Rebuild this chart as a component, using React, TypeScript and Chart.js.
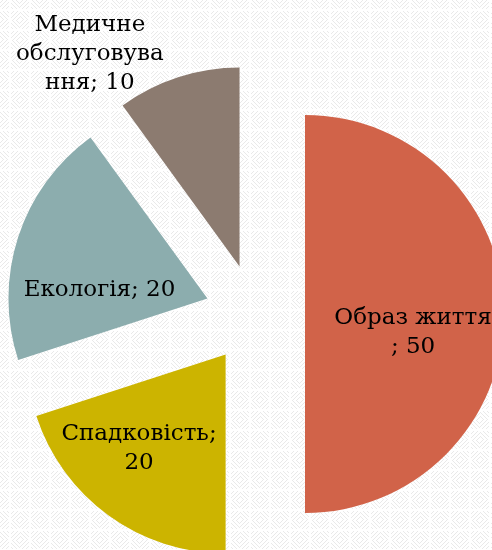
import React, { useEffect, useRef } from "react";
import { Chart, registerables } from "chart.js";

Chart.register(...registerables);

const categories = ["Образ життя", "Спадковість", "Екологія", "Медичне обслуговування"];
const values = [50, 20, 20, 10];
const colors = ["#D16349", "#CCB400", "#8CADAE", "#8C7B70"];
// how Excel wrapped each data label ("category; value")
const labelLines = [
  ["Образ життя", "; 50"],
  ["Спадковість;", "20"],
  ["Екологія; 20"],
  ["Медичне", "обслуговува", "ння; 10"],
];

// label placement relative to each exploded slice's apex
const labelRadiusFrac = [0.551, 0.644, 0.544, 1.305];
const labelAngleShiftDeg = [9.7, 6.5, -13.5, -17.2];

// keep every exploded slice at the same radius / full angle (undo Chart.js's offset tweaks)
const explodePlugin = {
  id: "explodeFix",
  afterDatasetUpdate(chart: any, args: any) {
    const meta = args.meta || chart.getDatasetMeta(args.index);
    const R = meta.controller.outerRadius;
    meta.data.forEach((arc: any) => {
      const off = ((arc.options && arc.options.offset) || 0) / 4;
      const circ = arc.circumference;
      const fix = 1 - Math.sin(Math.min(Math.PI, circ || 0));
      const ro = off * fix;
      arc.outerRadius = R - ro;
      const da = ro / (2 * Math.PI * R);
      arc.startAngle = arc.startAngle - da;
      arc.endAngle = arc.endAngle + da;
    });
  },
};

let patternCache: CanvasPattern | null = null;
function getPattern(ctx: CanvasRenderingContext2D) {
  if (patternCache) return patternCache;
  const s = 20;
  const c = document.createElement("canvas");
  c.width = s;
  c.height = s;
  const cx = c.getContext("2d")!;
  const img = cx.createImageData(s, s);
  for (let y = 0; y < s; y++) {
    for (let x = 0; x < s; x++) {
      const dx = x - 9.5;
      const dy = y - 9.5;
      const d = Math.floor(Math.abs(dx) + Math.abs(dy));
      let v = 255;
      const onRing = d % 4 === 0 || d % 4 === 1;
      const cross = Math.abs(dx) < 1 || Math.abs(dy) < 1;
      if (onRing && !cross && (x + y) % 2 === 0) v = 233;
      const k = (y * s + x) * 4;
      img.data[k] = v;
      img.data[k + 1] = v;
      img.data[k + 2] = v;
      img.data[k + 3] = 255;
    }
  }
  cx.putImageData(img, 0, 0);
  patternCache = ctx.createPattern(c, "repeat");
  return patternCache;
}

const backgroundPlugin = {
  id: "bgPattern",
  beforeDraw(chart: any) {
    const ctx = chart.ctx as CanvasRenderingContext2D;
    ctx.save();
    ctx.fillStyle = "#ffffff";
    ctx.fillRect(0, 0, chart.width, chart.height);
    const p = getPattern(ctx);
    if (p) {
      ctx.fillStyle = p;
      ctx.fillRect(0, 0, chart.width, chart.height);
    }
    ctx.restore();
  },
};

const labelPlugin = {
  id: "sliceLabels",
  afterDatasetsDraw(chart: any) {
    const ctx = chart.ctx;
    const meta = chart.getDatasetMeta(0);
    const base = meta.controller.outerRadius;
    ctx.save();
    ctx.font = "23px 'DejaVu Serif'";
    ctx.fillStyle = "#000";
    ctx.textAlign = "center";
    ctx.textBaseline = "middle";
    const lh = 29;
    meta.data.forEach((arc: any, i: number) => {
      const off = (arc.options.offset || 0) / 4;
      const mid = (arc.startAngle + arc.endAngle) / 2;
      const ax = arc.x + Math.cos(mid) * off;
      const ay = arc.y + Math.sin(mid) * off;
      const a = mid + (labelAngleShiftDeg[i] * Math.PI) / 180;
      const r = base * labelRadiusFrac[i];
      const cx = ax + Math.cos(a) * r;
      const cy = ay + Math.sin(a) * r;
      const lines = labelLines[i];
      lines.forEach((t, j) => {
        ctx.fillText(t, cx, cy + (j - (lines.length - 1) / 2) * lh);
      });
    });
    ctx.restore();
  },
};

export default function App() {
  const ref = useRef<HTMLCanvasElement>(null);
  useEffect(() => {
    const chart = new Chart(ref.current!, {
      type: "pie",
      data: {
        labels: categories,
        datasets: [
          {
            data: values,
            backgroundColor: colors,
            borderWidth: 0,
            offset: 200,
            hoverOffset: 0,
            radius: 199,
          } as any,
        ],
      },
      options: {
        responsive: false,
        animation: false,
        devicePixelRatio: 1,
        layout: { padding: 0 },
        events: [],
        plugins: {
          legend: { display: false },
          tooltip: { enabled: false },
          title: { display: false },
        },
      },
      plugins: [backgroundPlugin, explodePlugin, labelPlugin],
    });
    return () => chart.destroy();
  }, []);

  return (
    <div
      style={{
        position: "fixed",
        left: 0,
        top: 0,
        width: 492,
        height: 550,
        overflow: "hidden",
        backgroundColor: "#ffffff",
      }}
    >
      <canvas
        ref={ref}
        width={510}
        height={628}
        style={{ position: "absolute", left: 0, top: 0, width: 510, height: 628 }}
      />
    </div>
  );
}
